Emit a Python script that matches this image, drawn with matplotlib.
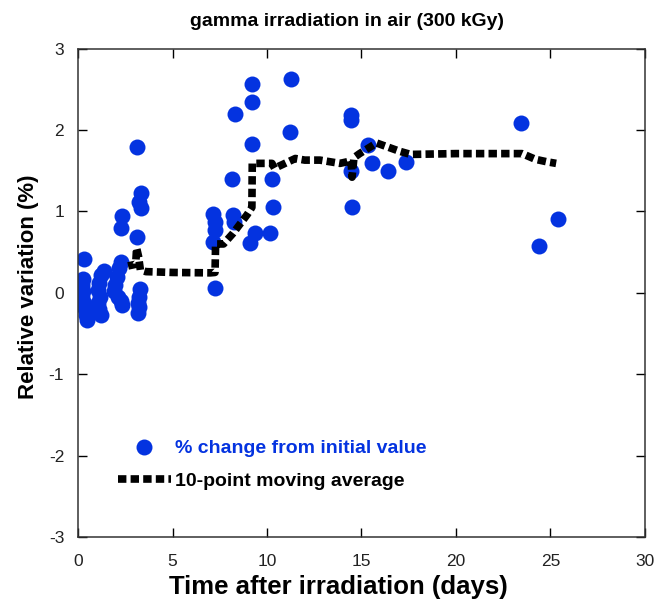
import matplotlib
matplotlib.use("Agg")
import matplotlib.pyplot as plt

plt.rcParams['font.family'] = ['Liberation Sans', 'DejaVu Sans']
plt.rcParams['axes.unicode_minus'] = False

# Scatter data: % change from initial value
days = [0.30, 0.25, 0.20, 0.25, 0.20, 0.30, 0.35, 0.40, 0.45,
        1.35, 1.20, 1.10, 1.05, 1.15, 1.05, 1.10, 1.20,
        2.25, 2.15, 2.05, 1.95, 1.90, 2.10, 2.30, 2.35,
        3.30, 3.25, 3.20, 3.25, 3.20,
        3.12, 3.33, 3.23, 3.33, 2.33, 2.28, 3.12,
        9.20, 11.27, 9.20, 8.30, 11.20, 9.20, 8.15, 10.26,
        7.14, 7.25, 7.25, 7.14, 8.20, 8.25, 10.30, 9.37, 9.10, 10.16, 7.25,
        14.44, 14.44, 14.44, 15.34, 15.56, 16.40, 17.35, 14.50,
        23.44, 25.40, 24.40]
change = [0.42, 0.17, 0.10, 0.02, -0.05, -0.12, -0.20, -0.27, -0.33,
          0.27, 0.22, 0.12, 0.03, -0.05, -0.12, -0.20, -0.27,
          0.38, 0.30, 0.20, 0.10, 0.02, -0.05, -0.10, -0.15,
          0.05, -0.05, -0.12, -0.18, -0.25,
          1.79, 1.22, 1.11, 1.04, 0.94, 0.80, 0.69,
          2.57, 2.63, 2.34, 2.20, 1.98, 1.83, 1.40, 1.40,
          0.97, 0.87, 0.77, 0.62, 0.95, 0.87, 1.05, 0.74, 0.61, 0.73, 0.06,
          2.19, 2.12, 1.50, 1.81, 1.60, 1.50, 1.61, 1.05,
          2.08, 0.91, 0.58]

# 10-point moving average
ma_days = [2.65, 3.05, 3.10, 3.20, 3.30, 3.60, 5.0, 7.0, 7.25, 7.28, 7.7, 8.2, 8.95, 9.2, 9.22,
           9.7, 10.26, 10.4, 10.95, 11.5, 12.0, 12.8, 13.86, 14.45, 14.5, 14.6, 14.9,
           15.8, 16.4, 17.0, 17.6, 20.0, 23.5, 24.2, 24.8, 25.3]
ma_vals = [0.33, 0.35, 0.55, 0.45, 0.28, 0.26, 0.25, 0.245, 0.25, 0.60, 0.60, 0.73, 0.96, 1.05, 1.59,
           1.59, 1.59, 1.53, 1.59, 1.65, 1.63, 1.63, 1.59, 1.62, 1.42, 1.66, 1.71,
           1.84, 1.79, 1.74, 1.70, 1.71, 1.71, 1.64, 1.61, 1.59]

x_ticks = [0, 5, 10, 15, 20, 25, 30]
y_ticks = [-3, -2, -1, 0, 1, 2, 3]

fig = plt.figure(figsize=(6.59, 6.0), dpi=100)
ax = fig.add_axes([0.1184, 0.105, 0.8603, 0.814])

blue = '#0433e0'
ax.plot(ma_days, ma_vals, color='black', linewidth=5.5, linestyle=(0, (1.1, 0.55)),
        dash_capstyle='butt', label='10-point moving average', zorder=3)
ax.plot(days, change, linestyle='none', marker='o', markersize=11.5, color=blue,
        markeredgewidth=0, label='% change from initial value', zorder=2)

ax.set_xlim(0, 30)
ax.set_ylim(-3, 3)
ax.set_xticks(x_ticks)
ax.set_yticks(y_ticks)
ax.tick_params(direction='in', length=6.5, width=1.0, top=True, right=True,
               labelsize=12.5, labelcolor='#222222')
ax.tick_params(axis='x', pad=12)
ax.tick_params(axis='y', pad=10)
for s in ax.spines.values():
    s.set_linewidth(1.1)
    s.set_color('#333333')

ax.set_xlabel('Time after irradiation (days)', fontsize=18.5, fontweight='bold')
ax.xaxis.set_label_coords(0.46, -0.077)
ax.set_ylabel('Relative variation (%)', fontsize=16, fontweight='bold')
ax.yaxis.set_label_coords(-0.069, 0.512)
fig.text(347 / 659, 1 - 22 / 600, 'gamma irradiation in air (300 kGy)', ha='center', va='center',
         fontsize=14, fontweight='bold')

handles, labels = ax.get_legend_handles_labels()
leg = ax.legend([handles[1], handles[0]], [labels[1], labels[0]], loc='lower left',
                bbox_to_anchor=(0.04, 0.06), frameon=False, handlelength=2.7,
                prop={'weight': 'bold', 'size': 14}, labelspacing=0.78, handletextpad=0.2)
leg.get_texts()[0].set_color(blue)
leg.get_texts()[1].set_color('black')

fig.savefig('out.png', dpi=100)
